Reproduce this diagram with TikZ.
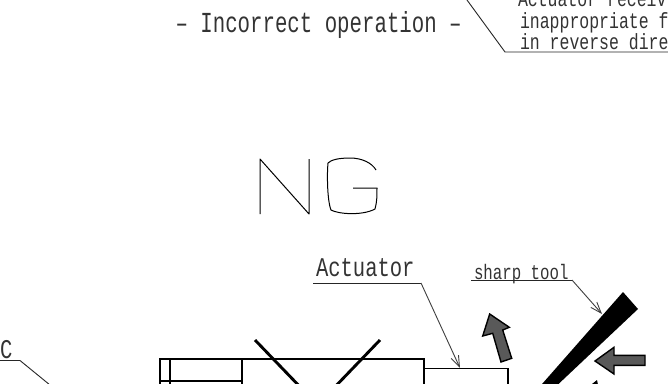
\documentclass[tikz,border=0pt]{standalone}
\usepackage{fontspec}
\setmainfont{Liberation Mono}
\usetikzlibrary{arrows.meta}
\newcommand{\cadtext}[3]{\scalebox{#2}[1]{\fontsize{#1}{#1}\selectfont #3}}
\tikzset{
 lbl/.style={anchor=base west,inner sep=0pt,outer sep=0pt,text=black!80},
 thin line/.style={draw=black!85,line width=0.9pt},
 leader/.style={draw=black!75,line width=0.9pt,-{Straight Barb[length=11pt,width=8pt,line width=0.9pt]}},
 heavy/.style={draw=black,line width=1.9pt},
 cross/.style={draw=black,line width=2.9pt},
 motion/.style={draw=black,fill=black!65,line width=1.4pt,line join=miter},
 ngline/.style={draw=black,line width=1pt,line join=round}
}
\begin{document}
\begin{tikzpicture}[x=1pt,y=-1pt]
\useasboundingbox (0,0) rectangle (668,383);
\clip (0,0) rectangle (668,383);
\fill[white] (0,0) rectangle (668,383);
% top texts
\node[lbl] (op) at (175.5,32) {\cadtext{29}{0.715}{– Incorrect operation –}};
\node[lbl] (t1) at (518,6) {\cadtext{22}{0.75}{Actuator receiv}};
\node[lbl] (t2) at (520,28) {\cadtext{22}{0.75}{inappropriate f}};
\node[lbl] (t3) at (520,49) {\cadtext{22}{0.75}{in reverse dire}};
\coordinate (nA) at (505,52);
\coordinate (nB) at (668,52);
\coordinate (nC) at (467,0);
\draw[thin line] (nC) -- (nA) -- (nB);
% NG
\draw[ngline] (260,214) -- (260,159) -- (309,214) -- (309,159);
\draw[ngline] (376,170) .. controls (372,163) and (362,158) .. (350,158)
  .. controls (338,158) and (331,160) .. (328,163)
  .. controls (327,172) and (327,200) .. (331,210)
  .. controls (338,214) and (362,216) .. (375,209)
  .. controls (377,202) and (377,195) .. (377,188) -- (353,188);
% actuator label
\node[lbl] (act) at (316,276) {\cadtext{27}{0.76}{Actuator}};
\coordinate (aA) at (313,283);
\coordinate (aB) at (421,283);
\coordinate (aC) at (460,368);
\draw[thin line] (aA) -- (aB);
\draw[leader] (aB) -- (aC);
% sharp tool
\node[lbl] (st) at (474,279) {\cadtext{21}{0.75}{sharp tool}};
\coordinate (sA) at (471,280);
\coordinate (sB) at (572,280);
\coordinate (sC) at (602,314);
\draw[thin line] (sA) -- (sB);
\draw[leader] (sB) -- (sC);
% C
\node[lbl] (c) at (0,358) {\cadtext{27}{0.76}{C}};
\coordinate (cA) at (0,360.5);
\coordinate (cB) at (20,360.5);
\coordinate (cC) at (50,385);
\draw[thin line] (cA) -- (cB) -- (cC);
% body
\draw[heavy] (160,390) -- (160,359) -- (424,359) -- (424,390);
\draw[heavy] (170,359) -- (170,390);
\draw[heavy] (241.7,359) -- (241.7,390);
\draw[heavy] (160,380.7) -- (241.7,380.7);
\draw[heavy] (424,368.5) -- (507.7,368.5) -- (507.7,390);
\draw[cross] (255,340) -- (305,392);
\draw[cross] (380,340) -- (330,392);
% wedge
\fill[black] (623,292) -- (638,309) -- (550,392) -- (535,392) -- cycle;
% motion arrows
\draw[motion] (489.7,314) -- (509.3,327.3) -- (502.7,330) -- (511.7,358.3) -- (501,362) -- (492.7,333.3) -- (482.7,336) -- cycle;
\draw[motion] (595,361) -- (614,347.3) -- (614,355.3) -- (645,355.3) -- (645,365.3) -- (614,365.3) -- (614,374) -- cycle;
\fill[black] (592,384) -- (597,380) -- (598,385) -- cycle;
\end{tikzpicture}
\end{document}
